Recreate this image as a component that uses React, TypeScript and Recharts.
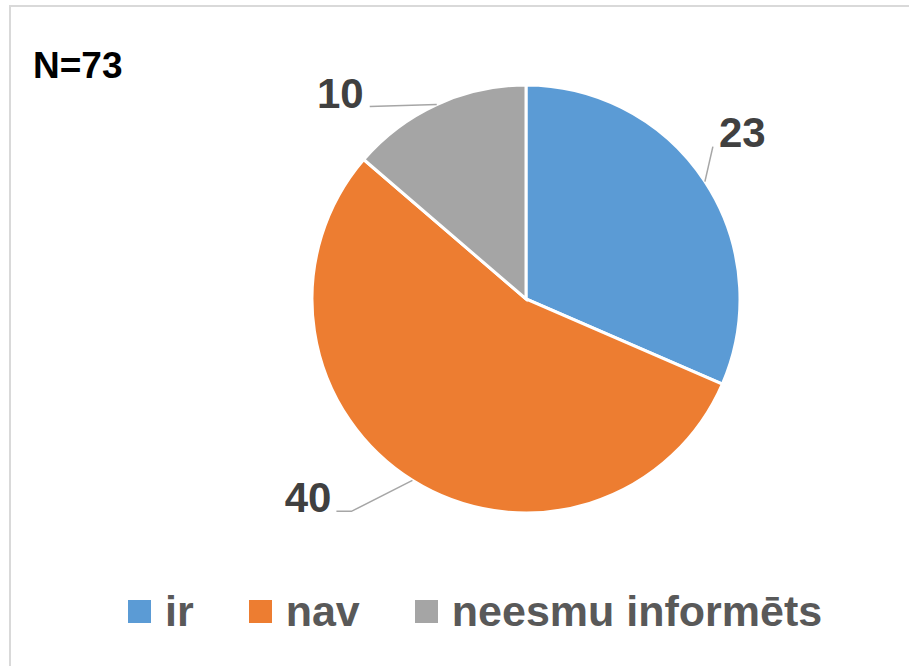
import React from "react";
import { PieChart, Pie, Cell, Legend } from "recharts";

const categories = ["ir", "nav", "neesmu informēts"];
const counts = [23, 40, 10];
const colors = ["#5B9BD5", "#ED7D31", "#A5A5A5"];
const sampleNote = "N=73";

// leader line bends relative to the slice edge point (Excel "best fit" placement)
const leads: { pts: [number, number][]; anchor: "start" | "end"; dx: number; dy: number }[] = [
  { pts: [[8, -35]], anchor: "start", dx: 6, dy: 0 },
  { pts: [[-61, 31], [-76, 31]], anchor: "end", dx: -5, dy: 1 },
  { pts: [[-67, 2]], anchor: "end", dx: -6, dy: 1 },
];

const FONT = "'Liberation Sans', Arial, sans-serif";
const RADIAN = Math.PI / 180;

const data = categories.map((name, i) => ({ name, value: counts[i], fill: colors[i] }));

function SliceLabel(props: any) {
  const { cx, cy, midAngle, outerRadius, index, value } = props;
  const ex = cx + outerRadius * Math.cos(-midAngle * RADIAN);
  const ey = cy + outerRadius * Math.sin(-midAngle * RADIAN);
  const lead = leads[index];
  const pts = [[ex, ey], ...lead.pts.map(([dx, dy]) => [ex + dx, ey + dy])];
  const last = pts[pts.length - 1];
  return (
    <g>
      <polyline
        points={pts.map((p) => p.join(",")).join(" ")}
        fill="none"
        stroke="#A6A6A6"
        strokeWidth={1.5}
      />
      <text
        x={last[0] + lead.dx}
        y={last[1] + lead.dy}
        textAnchor={lead.anchor}
        fontFamily={FONT}
        fontWeight="bold"
        fontSize={42}
        fill="#404040"
      >
        {value}
      </text>
    </g>
  );
}

function LegendContent() {
  return (
    <div style={{ display: "flex", alignItems: "center", fontFamily: FONT }}>
      {categories.map((c, i) => (
        <div key={c} style={{ display: "flex", alignItems: "center", marginRight: 55 }}>
          <div style={{ width: 23, height: 23, background: colors[i], marginRight: 14 }} />
          <span style={{ fontSize: 43, lineHeight: 1, fontWeight: "bold", color: "#595959" }}>{c}</span>
        </div>
      ))}
    </div>
  );
}

export default function App() {
  return (
    <div
      style={{
        position: "absolute",
        left: 0,
        top: 0,
        width: 909,
        height: 666,
        background: "#fff",
        overflow: "hidden",
      }}
    >
      <div
        style={{
          position: "absolute",
          left: 9,
          top: 5,
          width: 940,
          height: 700,
          borderTop: "2px solid #D9D9D9",
          borderLeft: "2px solid #D9D9D9",
        }}
      />
      <div
        style={{
          position: "absolute",
          left: 33,
          top: 47,
          fontFamily: FONT,
          fontWeight: "bold",
          fontSize: 37,
          lineHeight: 1,
          color: "#000",
        }}
      >
        {sampleNote}
      </div>
      <div style={{ position: "absolute", left: 0, top: 0 }}>
        <PieChart width={909} height={666} margin={{ top: 0, right: 0, bottom: 0, left: 0 }}>
          <Pie
            data={data}
            dataKey="value"
            nameKey="name"
            cx={526}
            cy={299}
            outerRadius={214}
            startAngle={90}
            endAngle={-270}
            stroke="#fff"
            strokeWidth={3}
            labelLine={false}
            label={SliceLabel}
            isAnimationActive={false}
          >
            {data.map((d) => (
              <Cell key={d.name} fill={d.fill} />
            ))}
          </Pie>
          <Legend
            content={<LegendContent />}
            wrapperStyle={{ position: "absolute", left: 128, top: 590, width: 760 }}
          />
        </PieChart>
      </div>
    </div>
  );
}
